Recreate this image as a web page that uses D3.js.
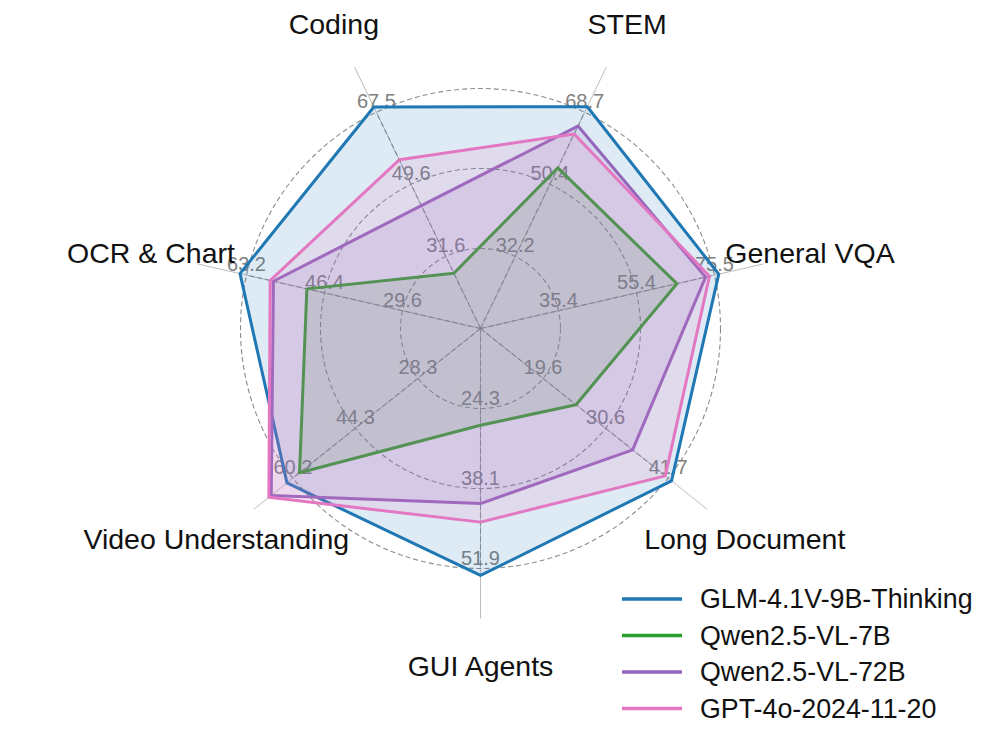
<!DOCTYPE html>
<html lang="en">
<head>
    <meta charset="UTF-8">
    <title>Radar</title>
    <script src="https://d3js.org/d3.v7.min.js"></script>
    <style>
        body { margin: 0; background: #fff; }
        text { font-family: "Liberation Sans", Arial, Helvetica, sans-serif; }
    </style>
</head>
<body>
<script>

    // Data ////////////////////////////////////
    var categories = ['Coding', 'STEM', 'General VQA', 'Long Document', 'GUI Agents', 'Video Understanding', 'OCR & Chart'];
    var axisTicks = [
        [31.6, 49.6, 67.5],
        [32.2, 50.4, 68.7],
        [35.4, 55.4, 75.5],
        [19.6, 30.6, 41.7],
        [24.3, 38.1, 51.9],
        [28.3, 44.3, 60.2],
        [29.6, 46.4, 63.2]
    ];
    var seriesNames = ['GLM-4.1V-9B-Thinking', 'Qwen2.5-VL-7B', 'Qwen2.5-VL-72B', 'GPT-4o-2024-11-20'];
    var glm = [68.8, 70.1, 76.6, 42.3, 53.1, 61.7, 64.6];
    var qwen7b = [27.4, 54.6, 65.8, 25.4, 27.2, 58.5, 50.2];
    var qwen72b = [44.3, 65.2, 73.2, 35.4, 40.7, 65.7, 57.4];
    var gpt4o = [55.7, 63.2, 74.2, 41.2, 43.9, 66.3, 58.1];
    var colors = ['#1f77b4', '#2ca02c', '#9467bd', '#e377c2'];

    var seriesValues = [glm, qwen7b, qwen72b, gpt4o];

    // Layout ////////////////////////////////////
    var width = 1000, height = 736;
    var cx = 480.5, cy = 328.5;
    var ringR = [80, 160, 240];
    var axisEnd = 290;
    var labelR = 338;

    var n = categories.length;
    var angle = d3.scaleLinear().domain([0, n]).range([-Math.PI / n, 2 * Math.PI - Math.PI / n]);

    // one radial scale per axis, ticks sit on the rings
    var rScales = axisTicks.map(function (t) {
        return d3.scaleLinear().domain(t).range(ringR);
    });

    function px(a, r) { return r * Math.sin(a); }
    function py(a, r) { return -r * Math.cos(a); }

    var svg = d3.select('body').append('svg')
            .attr('width', width).attr('height', height);
    var g = svg.append('g').attr('transform', 'translate(' + cx + ',' + cy + ')');

    // Grid ////////////////////////////////////
    var grid = g.append('g').attr('class', 'grid');

    grid.selectAll('line.axis-solid')
            .data(categories)
            .enter().append('line')
            .attr('class', 'axis-solid')
            .attr('x1', 0).attr('y1', 0)
            .attr('x2', function (d, i) { return px(angle(i), axisEnd); })
            .attr('y2', function (d, i) { return py(angle(i), axisEnd); })
            .style('stroke', '#bdbdbd').style('stroke-width', 1);

    grid.selectAll('line.axis-dash')
            .data(categories)
            .enter().append('line')
            .attr('class', 'axis-dash')
            .attr('x1', 0).attr('y1', 0)
            .attr('x2', function (d, i) { return px(angle(i), ringR[2]); })
            .attr('y2', function (d, i) { return py(angle(i), ringR[2]); })
            .style('stroke', '#8c8c8c').style('stroke-width', 1.1)
            .style('stroke-dasharray', '5,3');

    grid.selectAll('circle.ring')
            .data(ringR)
            .enter().append('circle')
            .attr('class', 'ring')
            .attr('r', function (d) { return d; })
            .style('fill', 'none').style('stroke', '#8c8c8c').style('stroke-width', 1.1)
            .style('stroke-dasharray', '5,3');

    // Tick labels
    var tickGroup = g.append('g').attr('class', 'ticks');
    axisTicks.forEach(function (t, i) {
        tickGroup.selectAll('text.tick-' + i)
                .data(t)
                .enter().append('text')
                .attr('class', 'tick-' + i)
                .attr('x', function (d) { return px(angle(i), rScales[i](d)); })
                .attr('y', function (d) { return py(angle(i), rScales[i](d)) - 4; })
                .style('text-anchor', 'middle')
                .style('font-size', '20px')
                .style('fill', '#808080')
                .text(function (d) { return d.toFixed(1); });
    });

    // Series ////////////////////////////////////
    var radial = d3.lineRadial()
            .angle(function (d, i) { return angle(i); })
            .radius(function (d, i) { return rScales[i](d); })
            .curve(d3.curveLinearClosed);

    var series = g.selectAll('g.series')
            .data(seriesValues)
            .enter().append('g')
            .attr('class', 'series');

    series.append('path')
            .attr('d', radial)
            .style('fill', function (d, i) { return colors[i]; })
            .style('fill-opacity', 0.15)
            .style('stroke', 'none');

    series.append('path')
            .attr('d', radial)
            .style('fill', 'none')
            .style('stroke', function (d, i) { return colors[i]; })
            .style('stroke-width', 3)
            .style('stroke-linejoin', 'round');

    // Category labels
    g.selectAll('text.cat')
            .data(categories)
            .enter().append('text')
            .attr('class', 'cat')
            .attr('x', function (d, i) { return px(angle(i), labelR); })
            .attr('y', function (d, i) { return py(angle(i), labelR); })
            .attr('dy', '0.35em')
            .style('text-anchor', 'middle')
            .style('font-size', '28.5px')
            .style('fill', '#111')
            .text(function (d) { return d; });

    // Legend ////////////////////////////////////
    var legend = svg.append('g').attr('class', 'legend')
            .attr('transform', 'translate(622,599)');
    var item = legend.selectAll('g.item')
            .data(seriesNames)
            .enter().append('g')
            .attr('class', 'item')
            .attr('transform', function (d, i) { return 'translate(0,' + (i * 36.5) + ')'; });
    item.append('line')
            .attr('x1', 0).attr('x2', 60).attr('y1', 0).attr('y2', 0)
            .style('stroke', function (d, i) { return colors[i]; })
            .style('stroke-width', 3.5);
    item.append('text')
            .attr('x', 78).attr('y', 0).attr('dy', '0.35em')
            .style('font-size', '26.8px')
            .style('fill', '#111')
            .text(function (d) { return d; });

</script>
</body>
</html>
